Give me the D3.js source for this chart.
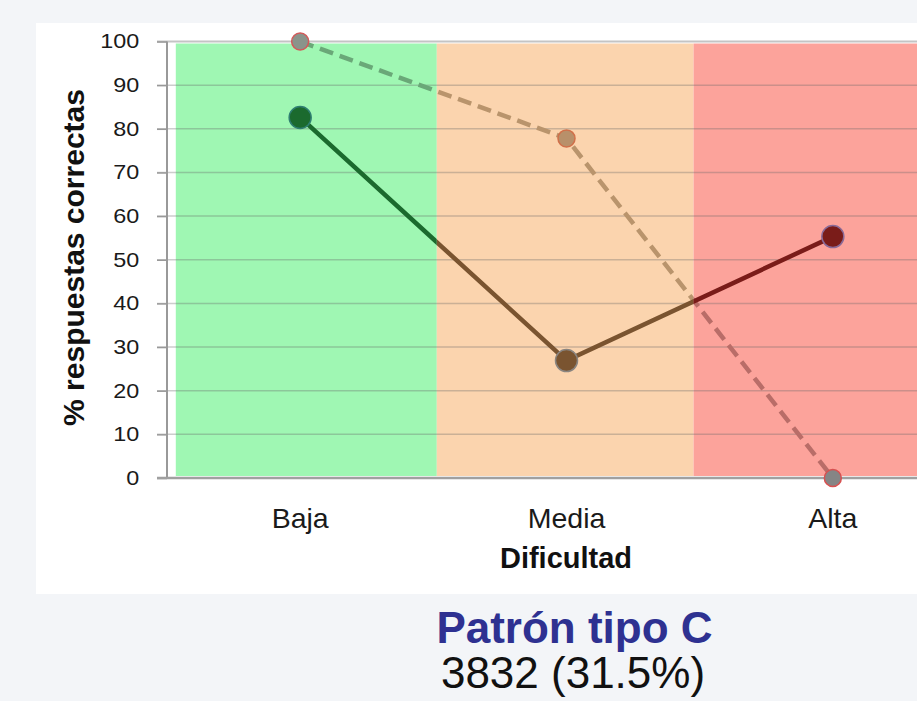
<!DOCTYPE html>
<html><head><meta charset="utf-8">
<script src="https://cdn.jsdelivr.net/npm/d3@7"></script>
<style>html,body{margin:0;padding:0;background:#f3f5f8;overflow:hidden}svg{display:block}</style>
</head><body><svg id="c" width="917" height="701"></svg>
<script>
// ---- data ----
const categories = ["Baja", "Media", "Alta"];
const observed = [82.6, 26.9, 55.3];     // solid series
const expected = [100, 77.8, 0];         // dashed series
const yTicks = [0, 10, 20, 30, 40, 50, 60, 70, 80, 90, 100];
const zoneStart = [0.533, 1.513, 2.477]; // in category units (Baja=1)
const zoneEnd = [1.513, 2.477, 3.6];
const zoneFill = ["#9ff7b3", "#fbd4ae", "#fca39b"];
const solidColor = ["#1b6a2e", "#7a5430", "#7a1c19"];
const solidStroke = ["#2f7f72", "#8a8580", "#8a6a98"];
const dashColor = ["#6aa878", "#b9946c", "#b96d68"];
const dashMarkerFill = ["#8a948b", "#b8906a", "#858585"];
const dashMarkerStroke = ["#d25a5a", "#d0704a", "#d85050"];
const xTitle = "Dificultad";
const yTitle = "% respuestas correctas";
const patternTitle = "Patrón tipo C";
const patternCount = "3832 (31.5%)";

// ---- drawing ----
const svg = d3.select("#c");
svg.append("rect").attr("x", 0).attr("y", 0).attr("width", 917).attr("height", 701).attr("fill", "#f3f5f8");
svg.append("rect").attr("x", 36).attr("y", 23).attr("width", 900).attr("height", 571).attr("fill", "#ffffff");

const xu = d3.scaleLinear().domain([0.5, 3.5]).range([167, 966]);
const x = d3.scalePoint().domain(categories).range([167, 966]).padding(0.5);
const y = d3.scaleLinear().domain([0, 100]).range([478, 41.5]);

// zones
svg.append("g").selectAll("rect").data(zoneFill).join("rect")
  .attr("x", (d, i) => xu(zoneStart[i]))
  .attr("width", (d, i) => xu(zoneEnd[i]) - xu(zoneStart[i]))
  .attr("y", y(100) + 2)
  .attr("height", y(0) - y(100) - 4)
  .attr("fill", d => d);

// gridlines (incl. tick marks)
svg.append("g").selectAll("line").data(yTicks.filter(t => t > 0 && t < 100)).join("line")
  .attr("x1", 157).attr("x2", 917)
  .attr("y1", d => y(d)).attr("y2", d => y(d))
  .attr("stroke", "#666").attr("stroke-opacity", 0.33).attr("stroke-width", 1.5);
// top line
svg.append("line").attr("x1", 157).attr("x2", 917).attr("y1", y(100)).attr("y2", y(100))
  .attr("stroke", "#c4c4c4").attr("stroke-width", 2);

// y axis
const yAxis = d3.axisLeft(y).tickValues(yTicks).tickSize(10).tickPadding(18);
const gy = svg.append("g").attr("transform", "translate(167,0)").call(yAxis);
gy.select(".domain").attr("stroke", "#999").attr("stroke-width", 2).attr("d", `M0,${y(100)}V${y(0)}`);
gy.selectAll(".tick line").attr("stroke", "#999").attr("stroke-width", 1.5);
gy.selectAll(".tick text")
  .attr("font-family", "Liberation Sans, Arial, sans-serif").attr("font-size", 20).attr("fill", "#1a1a1a")
  .attr("x", -27.8 / 1.17).attr("transform", "scale(1.17,1)");
// x axis line
svg.append("line").attr("x1", 157).attr("x2", 917).attr("y1", y(0)).attr("y2", y(0))
  .attr("stroke", "#a0a0a0").attr("stroke-width", 2.5);

// clip paths per zone
const defs = svg.append("defs");
zoneFill.forEach((d, i) => {
  defs.append("clipPath").attr("id", "z" + i).append("rect")
    .attr("x", i === 0 ? 0 : xu(zoneStart[i]))
    .attr("width", i === 2 ? 2000 : xu(zoneEnd[i]) - (i === 0 ? 0 : xu(zoneStart[i])))
    .attr("y", 0).attr("height", 701);
});

const line = d3.line().x((d, i) => x(categories[i])).y(d => y(d));

// dashed series
zoneFill.forEach((d, i) => {
  svg.append("path").attr("d", line(expected)).attr("clip-path", `url(#z${i})`)
    .attr("fill", "none").attr("stroke", dashColor[i]).attr("stroke-width", 4.5)
    .attr("stroke-dasharray", "14,7");
});
// solid series
zoneFill.forEach((d, i) => {
  svg.append("path").attr("d", line(observed)).attr("clip-path", `url(#z${i})`)
    .attr("fill", "none").attr("stroke", solidColor[i]).attr("stroke-width", 4.5);
});

// markers
svg.append("g").selectAll("circle").data(expected).join("circle")
  .attr("cx", (d, i) => x(categories[i])).attr("cy", d => y(d)).attr("r", 8.5)
  .attr("fill", (d, i) => dashMarkerFill[i]).attr("stroke", (d, i) => dashMarkerStroke[i]).attr("stroke-width", 1.5);
svg.append("g").selectAll("circle").data(observed).join("circle")
  .attr("cx", (d, i) => x(categories[i])).attr("cy", d => y(d)).attr("r", 11)
  .attr("fill", (d, i) => solidColor[i]).attr("stroke", (d, i) => solidStroke[i]).attr("stroke-width", 1.5);

// x labels
svg.append("g").selectAll("text").data(categories).join("text")
  .attr("x", d => x(d)).attr("y", 528).attr("text-anchor", "middle")
  .attr("font-family", "Liberation Sans, Arial, sans-serif").attr("font-size", 28.5).attr("fill", "#1a1a1a")
  .text(d => d);
svg.append("text").attr("x", 566).attr("y", 568).attr("text-anchor", "middle")
  .attr("font-family", "Liberation Sans, Arial, sans-serif").attr("font-weight", "bold").attr("font-size", 29).attr("fill", "#111")
  .text(xTitle);
svg.append("text").attr("transform", "translate(84,257.5) rotate(-90)").attr("text-anchor", "middle")
  .attr("font-family", "Liberation Sans, Arial, sans-serif").attr("font-weight", "bold").attr("font-size", 30).attr("fill", "#111")
  .text(yTitle);
svg.append("text").attr("x", 574.5).attr("y", 643).attr("text-anchor", "middle")
  .attr("font-family", "Liberation Sans, Arial, sans-serif").attr("font-weight", "bold").attr("font-size", 44).attr("fill", "#2e3191")
  .text(patternTitle);
svg.append("text").attr("x", 573).attr("y", 688).attr("text-anchor", "middle")
  .attr("font-family", "Liberation Sans, Arial, sans-serif").attr("font-size", 44).attr("fill", "#111")
  .text(patternCount);
</script></body></html>
